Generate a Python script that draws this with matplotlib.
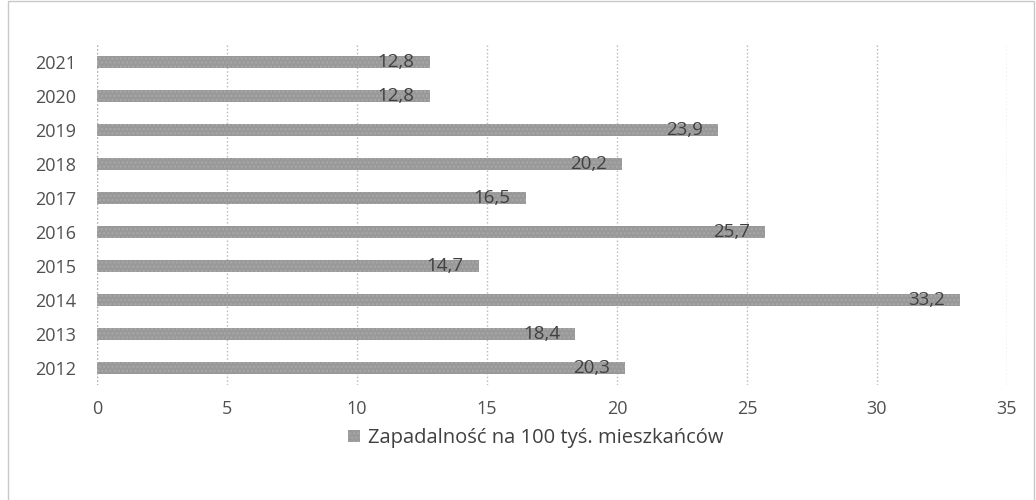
import matplotlib
matplotlib.use("Agg")
import matplotlib.pyplot as plt
from matplotlib.patches import Rectangle

# dane z wykresu
lata = ['2012', '2013', '2014', '2015', '2016', '2017', '2018', '2019', '2020', '2021']
zapadalnosc = [20.3, 18.4, 33.2, 14.7, 25.7, 16.5, 20.2, 23.9, 12.8, 12.8]
xticks = [0, 5, 10, 15, 20, 25, 30, 35]
seria = 'Zapadalność na 100 tyś. mieszkańców'

plt.rcParams['font.family'] = ['Open Sans', 'DejaVu Sans']

fig = plt.figure(figsize=(10.36, 5), dpi=100)
ax = fig.add_axes([0.0936, 0.23, 0.8784, 0.68])

y = list(range(len(lata)))
bars = ax.barh(y, zapadalnosc, height=0.36, color='#999999', hatch='....',
               edgecolor='#a8a8a8', linewidth=0, label=seria)

for rect, v in zip(bars, zapadalnosc):
    ax.annotate('{}'.format(v).replace('.', ','),
                xy=(rect.get_width(), rect.get_y() + rect.get_height() / 2),
                xytext=(-11, 0), textcoords='offset points',
                ha='right', va='center', fontsize=13.5, color='#404040')

ax.set_xlim(0, 35)
ax.set_ylim(-0.5, len(lata) - 0.5)
ax.set_xticks(xticks)
ax.set_yticks(y)
ax.set_yticklabels(lata)
ax.tick_params(length=0, labelsize=13, colors='#505050')
ax.tick_params(axis='x', pad=11)
ax.tick_params(axis='y', pad=15)
ax.xaxis.grid(True, linestyle=':', color='#b8b8b8', linewidth=1)
ax.set_axisbelow(True)
for s in ax.spines.values():
    s.set_visible(False)
ax.axvline(0, color='#b0b0b0', linestyle=':', linewidth=1)

fig.legend(handles=[bars], labels=[seria], loc='center', bbox_to_anchor=(0.517, 0.124),
           frameon=False, fontsize=14.5, handlelength=0.6, handleheight=0.6,
           handletextpad=0.4, labelcolor='#404040')

# ramka wykresu
fig.patches.append(Rectangle((0.008, -0.05), 0.99, 1.048, transform=fig.transFigure,
                             fill=False, edgecolor='#c8c8c8', linewidth=1))

plt.savefig('out.png', dpi=100)
